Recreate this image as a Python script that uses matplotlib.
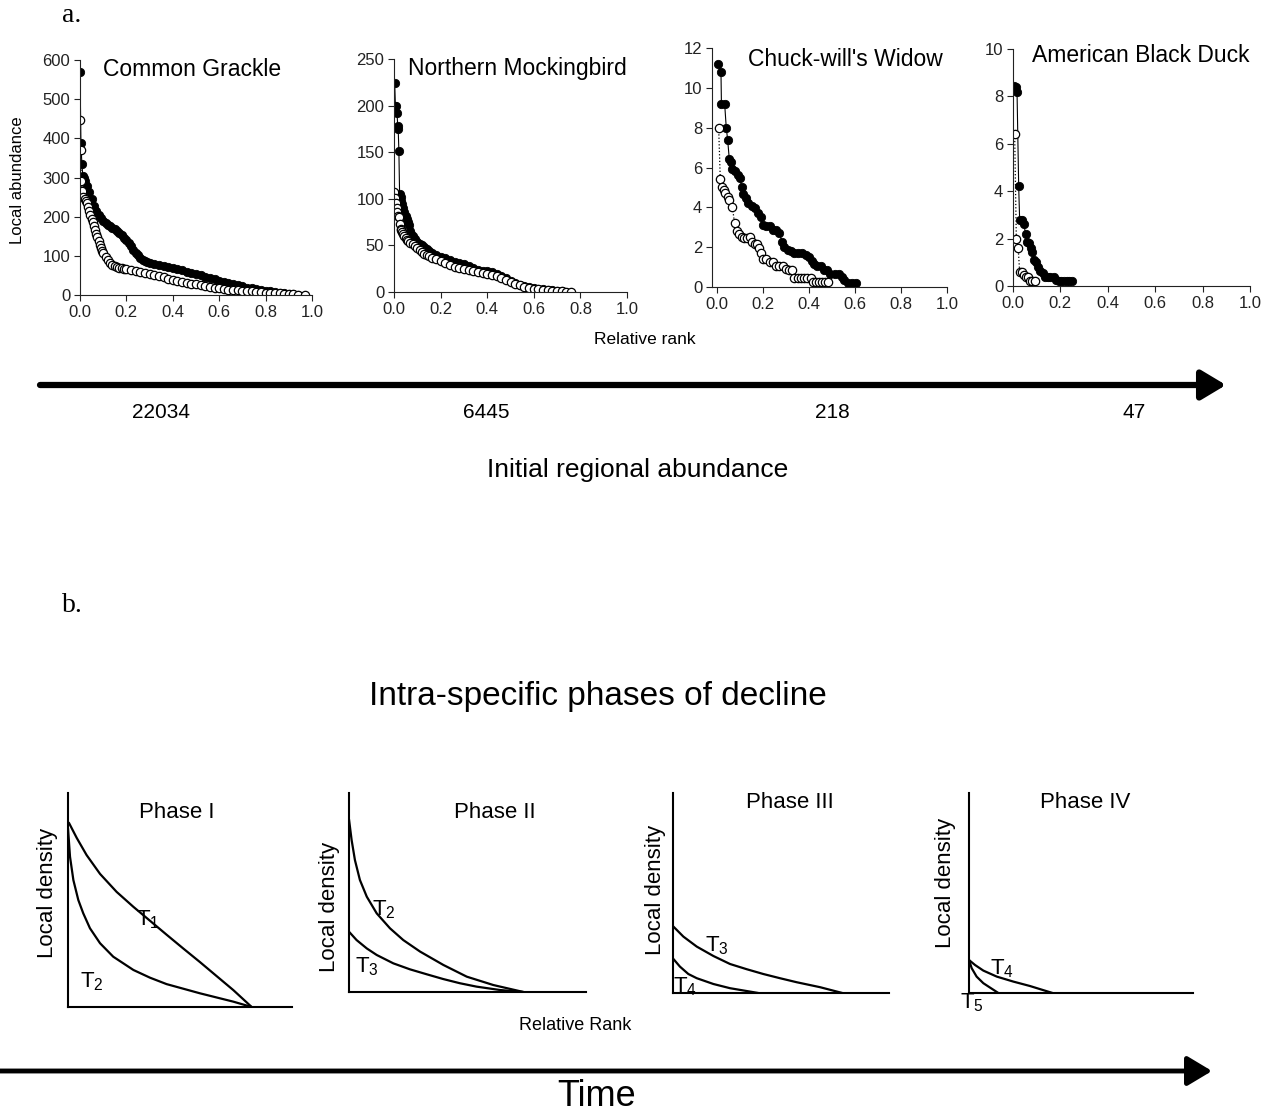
import numpy as np
import matplotlib
matplotlib.use("Agg")
import matplotlib.pyplot as plt

plt.rcParams['font.family'] = ['Liberation Sans', 'DejaVu Sans']
plt.rcParams['mathtext.default'] = 'regular'

W, H = 1277, 1118

# ---- panel a data (relative rank, local abundance) ----
species = ["Common Grackle", "Northern Mockingbird", "Chuck-will's Widow", "American Black Duck"]
regional = ["22034", "6445", "218", "47"]

grack_fill_x = [0.000, 0.004, 0.008, 0.012, 0.016, 0.020,
                0.03, 0.04, 0.05, 0.06, 0.07, 0.08, 0.09, 0.10,
                0.11, 0.12, 0.13, 0.14, 0.15, 0.16, 0.17, 0.18, 0.19, 0.20,
                0.21, 0.22, 0.23, 0.24, 0.25, 0.26, 0.27, 0.28, 0.29, 0.30,
                0.32, 0.34, 0.36, 0.38, 0.40, 0.42, 0.44, 0.46, 0.48, 0.50,
                0.52, 0.54, 0.56, 0.58, 0.60, 0.62, 0.64, 0.66, 0.68, 0.70,
                0.72, 0.74, 0.76, 0.78, 0.80, 0.82, 0.84, 0.86, 0.88, 0.90, 0.92, 0.94]
grack_fill_y = [570, 388, 335, 305, 300, 292,
                278, 262, 245, 228, 214, 203, 196, 190,
                185, 180, 176, 172, 168, 163, 158, 152, 146, 140,
                132, 124, 116, 108, 101, 95, 90, 86, 83, 81,
                79, 77, 74, 72, 69, 66, 63, 60, 57, 54,
                51, 47, 44, 40, 37, 34, 31, 28, 25, 22,
                19, 17, 15, 13, 11, 9, 7, 6, 4, 3, 2, 1]
grack_open_x = [0.000, 0.003, 0.006, 0.010, 0.014, 0.020, 0.025, 0.030, 0.035, 0.040,
                0.045, 0.050, 0.055, 0.060, 0.065, 0.070, 0.075, 0.080, 0.085, 0.090,
                0.095, 0.100, 0.11, 0.12, 0.13, 0.14, 0.15, 0.16, 0.17, 0.18, 0.19, 0.20,
                0.22, 0.24, 0.26, 0.28, 0.30, 0.32, 0.34, 0.36, 0.38, 0.40,
                0.42, 0.44, 0.46, 0.48, 0.50, 0.52, 0.54, 0.56, 0.58, 0.60,
                0.62, 0.64, 0.66, 0.68, 0.70, 0.72, 0.74, 0.76, 0.78, 0.80,
                0.82, 0.84, 0.86, 0.88, 0.90, 0.92, 0.94, 0.97]
grack_open_y = [447, 370, 290, 265, 250, 245, 240, 235, 225, 215,
                205, 195, 186, 177, 167, 157, 147, 137, 128, 120,
                113, 107, 97, 89, 82, 77, 74, 72, 70, 69, 67, 66,
                63, 61, 58, 56, 53, 51, 48, 45, 42, 39,
                36, 34, 31, 29, 27, 25, 23, 21, 19, 17,
                15, 14, 13, 12, 11, 10, 9, 8, 7, 6,
                5, 4, 4, 3, 2, 2, 1, 1]

mock_fill_x = [0.003, 0.006, 0.010, 0.013, 0.016, 0.018, 0.021, 0.024, 0.028, 0.032,
               0.036, 0.040, 0.045, 0.050, 0.055, 0.060, 0.065, 0.070, 0.075, 0.080,
               0.09, 0.10, 0.11, 0.12, 0.13, 0.14, 0.15, 0.165, 0.18, 0.20,
               0.22, 0.24, 0.26, 0.28, 0.30, 0.32, 0.34, 0.36, 0.38, 0.40,
               0.42, 0.44, 0.46, 0.48, 0.50, 0.52, 0.54, 0.56, 0.58, 0.60,
               0.62, 0.64, 0.66, 0.68, 0.70, 0.72]
mock_fill_y = [224, 200, 200, 192, 178, 175, 151, 105, 102, 98,
               94, 90, 86, 82, 78, 75, 72, 65, 62, 60,
               57, 54, 52, 50, 48, 46, 44, 42, 40, 38,
               36, 34, 32, 31, 30, 28, 26, 24, 23, 22,
               21, 19, 17, 15, 12, 10, 8, 6, 5, 4,
               3, 3, 2, 2, 1, 1]
mock_open_x = [0.000, 0.004, 0.008, 0.011, 0.014, 0.017, 0.020, 0.024, 0.028, 0.032,
               0.036, 0.040, 0.045, 0.050, 0.055, 0.060, 0.070, 0.080, 0.090, 0.100,
               0.11, 0.12, 0.13, 0.14, 0.15, 0.165, 0.18, 0.20, 0.22, 0.24,
               0.26, 0.28, 0.30, 0.32, 0.34, 0.36, 0.38, 0.40, 0.42, 0.44,
               0.46, 0.48, 0.50, 0.52, 0.54, 0.56, 0.58, 0.60, 0.62, 0.64,
               0.66, 0.68, 0.70, 0.72, 0.74, 0.76]
mock_open_y = [107, 101, 96, 90, 86, 82, 80, 73, 68, 66,
               64, 62, 60, 58, 56, 55, 53, 51, 49, 47,
               45, 43, 41, 40, 39, 37, 35, 33, 31, 29,
               27, 26, 25, 24, 22, 21, 20, 19, 18, 17,
               15, 13, 11, 9, 7, 5, 4, 3, 3, 2,
               2, 1, 1, 1, 0.5, 0]

chuck_fill_x = [0.003, 0.017, 0.019, 0.033, 0.040, 0.046, 0.053, 0.060, 0.067, 0.079,
                0.089, 0.100, 0.107, 0.114, 0.126, 0.136, 0.150, 0.164, 0.179, 0.189,
                0.200, 0.214, 0.231, 0.243, 0.257, 0.271, 0.283, 0.293, 0.307, 0.321,
                0.336, 0.350, 0.371, 0.386, 0.400, 0.411, 0.421, 0.436, 0.450, 0.464,
                0.479, 0.493, 0.514, 0.529, 0.543, 0.554, 0.569, 0.586, 0.603]
chuck_fill_y = [11.2, 10.8, 9.2, 9.2, 8.0, 7.4, 6.45, 6.3, 5.9, 5.8,
                5.6, 5.45, 5.0, 4.65, 4.45, 4.2, 4.05, 3.95, 3.7, 3.5,
                3.1, 3.05, 3.05, 2.85, 2.85, 2.7, 2.25, 2.0, 1.85, 1.8,
                1.7, 1.7, 1.7, 1.6, 1.5, 1.3, 1.15, 1.05, 1.05, 0.87,
                0.85, 0.67, 0.67, 0.67, 0.5, 0.37, 0.2, 0.2, 0.2]
chuck_open_x = [0.007, 0.014, 0.021, 0.029, 0.036, 0.046, 0.054, 0.067, 0.076, 0.086,
                0.096, 0.107, 0.117, 0.129, 0.143, 0.154, 0.164, 0.174, 0.183, 0.190,
                0.200, 0.214, 0.229, 0.243, 0.257, 0.271, 0.286, 0.300, 0.314, 0.326,
                0.336, 0.350, 0.364, 0.379, 0.393, 0.407, 0.417, 0.429, 0.443, 0.457,
                0.471, 0.483]
chuck_open_y = [8.0, 5.4, 5.0, 4.85, 4.7, 4.5, 4.35, 4.0, 3.2, 2.8,
                2.65, 2.5, 2.45, 2.45, 2.5, 2.25, 2.15, 2.15, 1.95, 1.7,
                1.4, 1.4, 1.25, 1.25, 1.05, 1.05, 1.05, 0.9, 0.85, 0.85,
                0.45, 0.45, 0.45, 0.45, 0.45, 0.45, 0.25, 0.25, 0.25, 0.25,
                0.25, 0.25]

duck_fill_x = [0.004, 0.011, 0.017, 0.024, 0.028, 0.038, 0.046, 0.053, 0.060, 0.067,
               0.074, 0.081, 0.088, 0.098, 0.105, 0.116, 0.126, 0.136, 0.147, 0.158,
               0.171, 0.182, 0.193, 0.204, 0.215, 0.227, 0.238, 0.248]
duck_fill_y = [8.45, 8.4, 8.2, 4.2, 2.8, 2.8, 2.6, 2.2, 1.85, 1.8,
               1.6, 1.45, 1.1, 1.0, 0.8, 0.65, 0.55, 0.4, 0.4, 0.4,
               0.4, 0.25, 0.2, 0.2, 0.2, 0.2, 0.2, 0.2]
duck_open_x = [0.007, 0.014, 0.022, 0.028, 0.036, 0.045, 0.056, 0.063, 0.070, 0.080, 0.091]
duck_open_y = [6.4, 2.0, 1.6, 0.6, 0.6, 0.45, 0.4, 0.4, 0.2, 0.2, 0.2]

# ---- panel b schematic curves (axes fraction units) ----
p1_t1_x = [0.004, 0.039, 0.083, 0.143, 0.217, 0.292, 0.366, 0.440, 0.515, 0.589, 0.664, 0.738, 0.820]
p1_t1_y = [0.861, 0.790, 0.710, 0.622, 0.538, 0.468, 0.403, 0.338, 0.273, 0.210, 0.144, 0.079, 0.0]
p1_t2_x = [0.0, 0.009, 0.024, 0.046, 0.068, 0.098, 0.143, 0.202, 0.292, 0.366, 0.440, 0.589, 0.738, 0.820]
p1_t2_y = [0.835, 0.702, 0.593, 0.500, 0.438, 0.368, 0.298, 0.235, 0.173, 0.137, 0.107, 0.064, 0.025, 0.0]
p2_t2_x = [0.0, 0.011, 0.025, 0.046, 0.075, 0.117, 0.173, 0.229, 0.300, 0.398, 0.497, 0.609, 0.736]
p2_t2_y = [0.868, 0.764, 0.663, 0.563, 0.479, 0.395, 0.320, 0.261, 0.203, 0.136, 0.077, 0.035, 0.0]
p2_t3_x = [0.0, 0.032, 0.075, 0.117, 0.187, 0.257, 0.328, 0.398, 0.468, 0.538, 0.637, 0.736]
p2_t3_y = [0.303, 0.261, 0.219, 0.186, 0.144, 0.114, 0.089, 0.065, 0.044, 0.027, 0.010, 0.0]
p3_t3_x = [0.002, 0.048, 0.110, 0.187, 0.264, 0.341, 0.418, 0.495, 0.572, 0.681, 0.784]
p3_t3_y = [0.332, 0.282, 0.232, 0.185, 0.145, 0.119, 0.095, 0.074, 0.054, 0.029, 0.0]
p3_t4_x = [0.002, 0.032, 0.071, 0.110, 0.187, 0.264, 0.395]
p3_t4_y = [0.170, 0.132, 0.095, 0.074, 0.045, 0.024, 0.0]
p4_t4_x = [0.0, 0.027, 0.064, 0.124, 0.198, 0.272, 0.373]
p4_t4_y = [0.165, 0.140, 0.112, 0.082, 0.057, 0.035, 0.0]
p4_t5_x = [0.0, 0.012, 0.034, 0.064, 0.094, 0.131]
p4_t5_y = [0.165, 0.124, 0.082, 0.049, 0.027, 0.0]
phases = ["Phase I", "Phase II", "Phase III", "Phase IV"]


def box(l, t, r, b):
    return [l / W, 1 - b / H, (r - l) / W, (b - t) / H]


fig = plt.figure(figsize=(W / 100, H / 100), dpi=100)

# overlay in pixel coordinates for labels and arrows
ov = fig.add_axes([0, 0, 1, 1])
ov.set_xlim(0, W)
ov.set_ylim(H, 0)
ov.axis('off')

ov.text(62, 16, "a.", family='Liberation Serif', fontsize=20, va='center', ha='left')
ov.text(62, 605, "b.", family='Liberation Serif', fontsize=20, va='center', ha='left')

ov.annotate('', xy=(1226, 385), xytext=(40, 385),
            arrowprops=dict(arrowstyle='-|>,head_length=1.0,head_width=0.6', lw=4.5,
                            color='k', shrinkA=0, shrinkB=0, mutation_scale=15))
for x, lab in zip([161, 486, 832, 1134], regional):
    ov.text(x, 412, lab, fontsize=15, ha='center', va='center')
ov.text(638, 470, "Initial regional abundance", fontsize=19, ha='center', va='center')
ov.text(645, 340, "Relative rank", fontsize=12.5, ha='center', va='center')
ov.text(18, 180, "Local abundance", fontsize=12, rotation=90, ha='center', va='center')

ov.text(598, 697, "Intra-specific phases of decline", fontsize=24, ha='center', va='center')
ov.annotate('', xy=(1212, 1071), xytext=(0, 1071),
            arrowprops=dict(arrowstyle='-|>,head_length=1.0,head_width=0.6', lw=3.5,
                            color='k', shrinkA=0, shrinkB=0, mutation_scale=15))
ov.text(597, 1097, "Time", fontsize=26, ha='center', va='center')
ov.text(575, 1026, "Relative Rank", fontsize=13, ha='center', va='center')

# ---- panel a ----
series = [
    (grack_fill_x, grack_fill_y, grack_open_x, grack_open_y),
    (mock_fill_x, mock_fill_y, mock_open_x, mock_open_y),
    (chuck_fill_x, chuck_fill_y, chuck_open_x, chuck_open_y),
    (duck_fill_x, duck_fill_y, duck_open_x, duck_open_y),
]
boxes_a = [(80, 60, 312, 295), (394, 59, 627, 292), (712, 48, 947, 287), (1013, 49, 1250, 286)]
ylims = [(600, 100), (250, 50), (12, 2), (10, 2)]
xmins = [0, 0, -0.022, 0]
title_pos = [(103, 69), (408, 68), (748, 59), (1032, 56)]

for i in range(4):
    ax = fig.add_axes(box(*boxes_a[i]))
    fx, fy, ox, oy = series[i]
    ax.plot(fx, fy, '-', color='k', lw=0.8, marker='o', ms=6, mfc='k', mec='k', mew=0.6)
    ax.plot(ox, oy, ':', color='k', lw=0.9, marker='o', ms=6, mfc='white', mec='k', mew=0.9)
    ymax, step = ylims[i]
    ax.set_ylim(0, ymax)
    ax.set_yticks(np.arange(0, ymax + step / 2, step))
    ax.set_xlim(xmins[i], 1.0)
    ax.set_xticks([0, 0.2, 0.4, 0.6, 0.8, 1.0])
    ax.set_xticklabels(["0.0", "0.2", "0.4", "0.6", "0.8", "1.0"])
    for s in ['top', 'right']:
        ax.spines[s].set_visible(False)
    for s in ['left', 'bottom']:
        ax.spines[s].set_linewidth(0.8)
        ax.spines[s].set_color('#222222')
    ax.tick_params(direction='out', length=4, width=0.8, labelsize=12, pad=3, colors='#222222')
    ax.patch.set_alpha(0)
    ov.text(title_pos[i][0], title_pos[i][1], species[i], fontsize=16.5, ha='left', va='center')

# ---- panel b ----
boxes_b = [(68, 793, 292, 1007), (349, 793, 586, 992), (673, 793, 889, 993), (969, 793, 1193, 993)]
curves = [
    [(p1_t1_x, p1_t1_y), (p1_t2_x, p1_t2_y)],
    [(p2_t2_x, p2_t2_y), (p2_t3_x, p2_t3_y)],
    [(p3_t3_x, p3_t3_y), (p3_t4_x, p3_t4_y)],
    [(p4_t4_x, p4_t4_y), (p4_t5_x, p4_t5_y)],
]
phase_pos = [(177, 813), (495, 813), (790, 803), (1085, 803)]
dens_pos = [(47, 893), (330, 907), (655, 890), (945, 883)]
tlabels = [
    [(148, 920, '1'), (92, 982, '2')],
    [(384, 910, '2'), (367, 967, '3')],
    [(717, 946, '3'), (685, 987, '4')],
    [(1002, 969, '4'), (972, 1003, '5')],
]

for i in range(4):
    ax = fig.add_axes(box(*boxes_b[i]))
    for cx, cy in curves[i]:
        ax.plot(cx, cy, color='k', lw=1.6, solid_capstyle='round')
    ax.set_xlim(0, 1)
    ax.set_ylim(0, 1)
    ax.set_xticks([])
    ax.set_yticks([])
    for s in ['top', 'right']:
        ax.spines[s].set_visible(False)
    for s in ['left', 'bottom']:
        ax.spines[s].set_linewidth(1.5)
    ax.patch.set_alpha(0)
    ov.text(phase_pos[i][0], phase_pos[i][1], phases[i], fontsize=16, ha='center', va='center')
    ov.text(dens_pos[i][0], dens_pos[i][1], "Local density", fontsize=16, rotation=90,
            ha='center', va='center')
    for tx, ty, sub in tlabels[i]:
        ov.text(tx, ty, r'$T_{%s}$' % sub, fontsize=16, ha='center', va='center')

fig.savefig("out.png", dpi=100)
